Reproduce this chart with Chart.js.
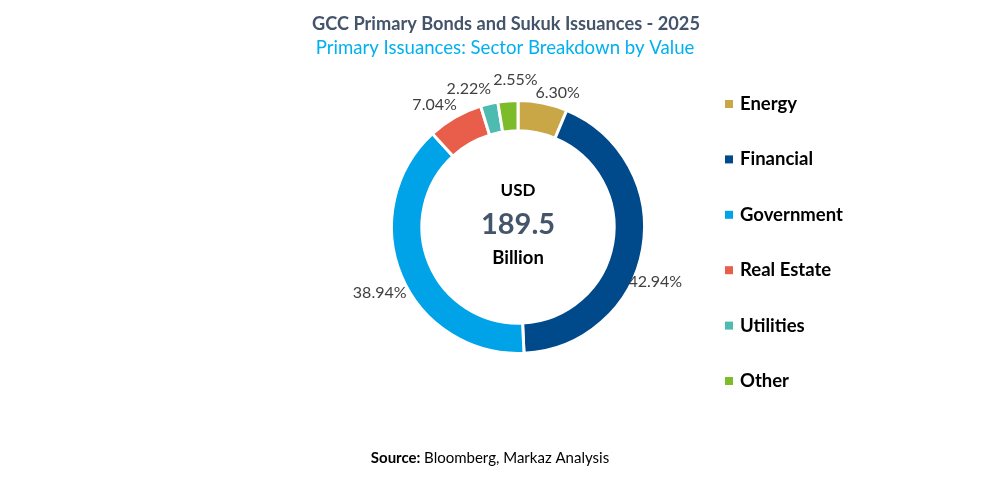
<!DOCTYPE html>
<html>
<head>
<meta charset="utf-8">
<script src="https://cdn.jsdelivr.net/npm/chart.js@4"></script>
<style>
  html, body { margin: 0; padding: 0; background: #fff; }
  #wrap { width: 998px; height: 485px; position: relative; }
</style>
</head>
<body>
<div id="wrap"><canvas id="sectorChart"></canvas></div>
<script>
const sectors = ['Energy', 'Financial', 'Government', 'Real Estate', 'Utilities', 'Other'];
const shares = [6.30, 42.94, 38.94, 7.04, 2.22, 2.55];
const sectorColors = ['#c9a646', '#004a8c', '#00a2e8', '#e85e4a', '#4dbbb0', '#7cbc2a'];
const totalValue = '189.5';

const FONT = 'Lato, "Open Sans", sans-serif';

// small offsets so the outside labels don't collide (like excel best fit)
const labelNudge = [[11, 9], [-6, 30], [-4, 10], [-11, 4], [-16, 4], [9, -2]];

const textPlugin = {
  id: 'texts',
  afterDraw(chart) {
    const ctx = chart.ctx;
    const meta = chart.getDatasetMeta(0);
    const arc0 = meta.data[0];
    const cx = arc0.x, cy = arc0.y;
    const outer = arc0.outerRadius;

    ctx.save();
    ctx.textBaseline = 'middle';

    // titles
    ctx.textAlign = 'center';
    ctx.fillStyle = '#44546a';
    ctx.font = 'bold 18.2px ' + FONT;
    ctx.fillText('GCC Primary Bonds and Sukuk Issuances - 2025', 506, 24);
    ctx.fillStyle = '#00b0f0';
    ctx.font = '18.6px ' + FONT;
    ctx.fillText('Primary Issuances: Sector Breakdown by Value', 505, 48);

    // center
    ctx.fillStyle = '#000';
    ctx.font = 'bold 17px ' + FONT;
    ctx.fillText('USD', cx, 191);
    ctx.font = 'bold 18.5px ' + FONT;
    ctx.fillText('Billion', cx, 258);
    ctx.fillStyle = '#44546a';
    ctx.font = 'bold 29px ' + FONT;
    ctx.fillText(totalValue, cx, 225);

    // percent labels
    ctx.fillStyle = '#404040';
    ctx.font = '16px ' + FONT;
    meta.data.forEach((arc, i) => {
      const mid = (arc.startAngle + arc.endAngle) / 2;
      const r = outer + 19;
      const x = cx + Math.cos(mid) * r + labelNudge[i][0];
      const y = cy + Math.sin(mid) * r + labelNudge[i][1];
      ctx.fillText(shares[i].toFixed(2) + '%', x, y);
    });

    // legend
    ctx.textAlign = 'left';
    ctx.font = 'bold 18.5px ' + FONT;
    sectors.forEach((name, i) => {
      const y = 104 + i * 55.4;
      ctx.fillStyle = sectorColors[i];
      ctx.fillRect(725, y - 4, 8, 8);
      ctx.fillStyle = '#000';
      ctx.fillText(name, 740, y);
    });

    // source
    ctx.font = 'bold 15px ' + FONT;
    const w1 = ctx.measureText('Source: ').width;
    ctx.font = '15px ' + FONT;
    const w2 = ctx.measureText('Bloomberg, Markaz Analysis').width;
    let sx = 490 - (w1 + w2) / 2;
    ctx.fillStyle = '#000';
    ctx.font = 'bold 15px ' + FONT;
    ctx.fillText('Source:', sx, 458);
    ctx.font = '15px ' + FONT;
    ctx.fillText('Bloomberg, Markaz Analysis', sx + w1, 458);

    ctx.restore();
  }
};

const ctx = document.getElementById('sectorChart').getContext('2d');
new Chart(ctx, {
  type: 'doughnut',
  data: {
    labels: sectors,
    datasets: [{
      data: shares,
      backgroundColor: sectorColors,
      borderColor: '#ffffff',
      borderWidth: 3
    }]
  },
  options: {
    responsive: true,
    maintainAspectRatio: false,
    animation: false,
    cutout: '76%',
    layout: {
      padding: { left: 390, right: 352, top: 99, bottom: 130 }
    },
    plugins: {
      legend: { display: false },
      tooltip: { enabled: false }
    }
  },
  plugins: [textPlugin]
});
</script>
</body>
</html>
